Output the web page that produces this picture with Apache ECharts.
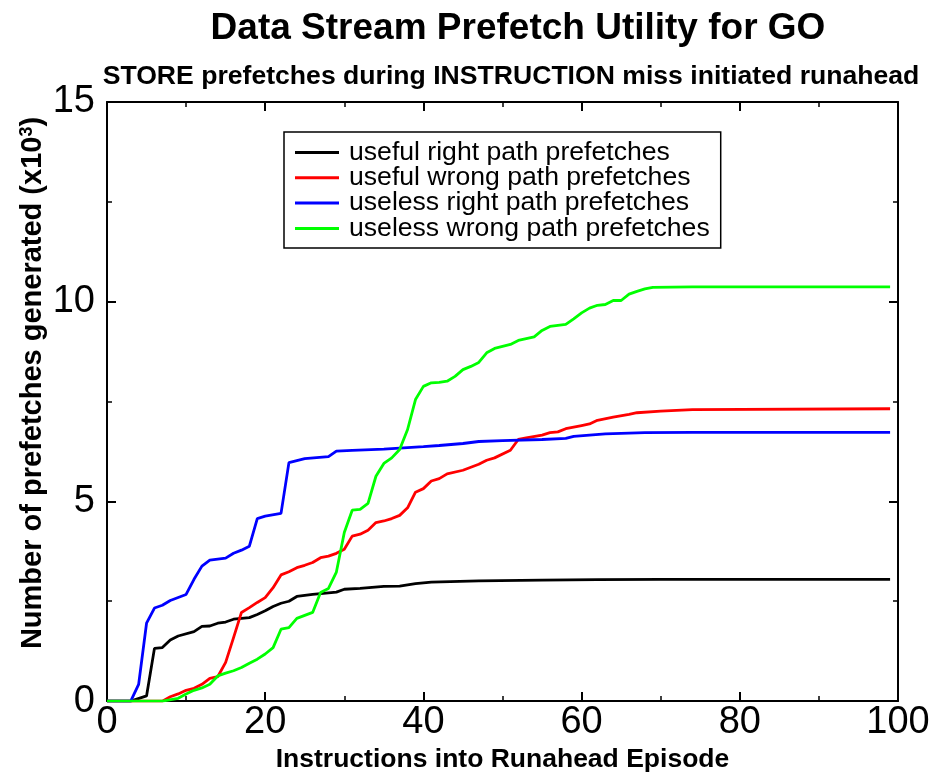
<!DOCTYPE html>
<html>
<head>
<meta charset="utf-8">
<script src="https://cdn.jsdelivr.net/npm/echarts@6/dist/echarts.min.js"></script>
<style>html,body{margin:0;padding:0;background:#fff}#c{width:945px;height:778px}</style>
</head>
<body>
<div id="c"></div>
<script>
const titleText = 'Data Stream Prefetch Utility for GO';
const subtitleText = 'STORE prefetches during INSTRUCTION miss initiated runahead';
const xAxisName = 'Instructions into Runahead Episode';
const seriesNames = ['useful right path prefetches','useful wrong path prefetches','useless right path prefetches','useless wrong path prefetches'];
const seriesColors = ['#000000','#ff0000','#0000ff','#00ff00'];

const usefulRight = [[0,0],[3,0],[5,0.13],[6,1.32],[7,1.34],[8,1.53],[9,1.63],[11,1.74],[12,1.87],[13,1.88],[14,1.95],[15,1.98],[16,2.05],[18,2.09],[19,2.17],[20,2.26],[21,2.37],[22,2.45],[23,2.5],[24,2.62],[26,2.67],[29,2.73],[30,2.8],[32,2.82],[35,2.87],[37,2.88],[39,2.94],[41,2.98],[47,3.01],[55,3.03],[62,3.04],[70,3.05],[99,3.05]];
const usefulWrong = [[0,0],[7,0],[8,0.11],[9,0.18],[10,0.27],[11,0.32],[12,0.42],[13,0.57],[14,0.61],[15,0.97],[16,1.59],[17,2.22],[18,2.34],[19,2.47],[20,2.59],[21,2.84],[22,3.16],[23,3.24],[24,3.34],[25,3.4],[26,3.47],[27,3.59],[28,3.63],[29,3.7],[30,3.8],[31,4.13],[32,4.18],[33,4.28],[34,4.47],[35,4.51],[36,4.57],[37,4.65],[38,4.84],[39,5.23],[40,5.32],[41,5.51],[42,5.57],[43,5.69],[45,5.78],[47,5.93],[48,6.03],[49,6.09],[51,6.28],[52,6.55],[53,6.59],[55,6.66],[56,6.72],[57,6.74],[58,6.82],[60,6.9],[61,6.94],[62,7.03],[64,7.11],[66,7.18],[67,7.22],[70,7.26],[74,7.3],[99,7.32]];
const uselessRight = [[0,0],[3,0],[4,0.42],[5,1.95],[6,2.33],[7,2.4],[8,2.52],[10,2.67],[11,3.05],[12,3.38],[13,3.53],[15,3.58],[16,3.7],[17,3.78],[18,3.88],[19,4.57],[20,4.63],[22,4.7],[23,5.97],[25,6.07],[28,6.12],[29,6.26],[31,6.28],[35,6.31],[40,6.37],[42,6.4],[45,6.45],[47,6.5],[50,6.52],[55,6.55],[58,6.58],[59,6.63],[63,6.69],[68,6.72],[74,6.73],[99,6.73]];
const uselessWrong = [[0,0],[7,0],[9,0.07],[10,0.18],[11,0.27],[12,0.33],[13,0.42],[14,0.63],[15,0.7],[16,0.76],[17,0.84],[18,0.95],[19,1.05],[20,1.18],[21,1.34],[22,1.8],[23,1.84],[24,2.07],[26,2.22],[27,2.72],[28,2.82],[29,3.23],[30,4.22],[31,4.78],[32,4.8],[33,4.95],[34,5.63],[35,5.95],[36,6.09],[37,6.3],[38,6.8],[39,7.55],[40,7.88],[41,7.97],[42,7.98],[43,8.01],[44,8.13],[45,8.3],[46,8.38],[47,8.48],[48,8.72],[49,8.83],[51,8.93],[52,9.03],[54,9.12],[55,9.28],[56,9.38],[58,9.43],[59,9.57],[60,9.72],[61,9.84],[62,9.91],[63,9.93],[64,10.03],[65,10.03],[66,10.19],[67,10.26],[68,10.32],[69,10.36],[74,10.37],[99,10.37]];
const seriesData = [usefulRight, usefulWrong, uselessRight, uselessWrong];

const xMin = 0, xMax = 100, xInterval = 20;
const yMin = 0, yMax = 15, yInterval = 5;

const FONT = 'Liberation Sans, Arial, Helvetica, sans-serif';
const chart = echarts.init(document.getElementById('c'), null, {renderer: 'canvas'});

function mkX(pos, showLabel) {
  return {
    type: 'value', position: pos, min: xMin, max: xMax, interval: xInterval,
    gridIndex: 0,
    name: showLabel ? xAxisName : '',
    nameLocation: 'middle', nameGap: 43,
    nameTextStyle: {fontFamily: FONT, fontWeight: 'bold', fontSize: 26.5, color: '#000'},
    axisLine: {show: true, onZero: false, lineStyle: {color: '#000', width: 2}},
    axisTick: {show: true, inside: true, length: 9, lineStyle: {color: '#000', width: 2}},
    minorTick: {show: true, splitNumber: 2, length: 5, lineStyle: {color: '#000', width: 1.5}},
    axisLabel: {show: showLabel, fontFamily: FONT, fontSize: 38, color: '#000', margin: 2},
    splitLine: {show: false}
  };
}
function mkY(pos, showLabel) {
  return {
    type: 'value', position: pos, min: yMin, max: yMax, interval: yInterval,
    gridIndex: 0,
    axisLine: {show: true, onZero: false, lineStyle: {color: '#000', width: 2}},
    axisTick: {show: true, inside: true, length: 9, lineStyle: {color: '#000', width: 2}},
    minorTick: {show: true, splitNumber: 2, length: 5, lineStyle: {color: '#000', width: 1.5}},
    axisLabel: {show: showLabel, fontFamily: FONT, fontSize: 38, color: '#000', margin: 12},
    splitLine: {show: false}
  };
}

const option = {
  backgroundColor: '#fff',
  animation: false,
  title: [
    {text: titleText, left: 513, top: 5, textAlign: 'center',
     textStyle: {fontFamily: FONT, fontWeight: 'bold', fontSize: 37, color: '#000'}},
    {text: subtitleText, left: 506, top: 58, textAlign: 'center',
     textStyle: {fontFamily: FONT, fontWeight: 'bold', fontSize: 26.6, color: '#000'}}
  ],
  grid: {left: 107, right: 47, top: 102, bottom: 76, containLabel: false},
  legend: {
    orient: 'vertical', left: 284, top: 132,
    padding: [7, 11, 6, 11],
    borderColor: '#000', borderWidth: 1.5,
    itemWidth: 44, itemHeight: 3, itemGap: -1.7,
    icon: 'rect',
    textStyle: {fontFamily: FONT, fontSize: 26.6, color: '#000', lineHeight: 25, padding: [0,0,0,5]},
    data: seriesNames
  },
  xAxis: [mkX('bottom', true), mkX('top', false)],
  yAxis: [mkY('left', true), mkY('right', false)],
  graphic: [{
    type: 'text', x: 33, y: 383, rotation: Math.PI / 2,
    style: {
      text: '{a|Number of prefetches generated (x10}{s|3}{a|)}',
      align: 'center', verticalAlign: 'middle',
      rich: {
        a: {fontFamily: FONT, fontWeight: 'bold', fontSize: 29, fill: '#000'},
        s: {fontFamily: FONT, fontWeight: 'bold', fontSize: 18, fill: '#000', verticalAlign: 'top', padding: [0,0,12,0]}
      }
    }
  }],
  series: seriesNames.map((n, i) => ({
    name: n, type: 'line', data: seriesData[i],
    xAxisIndex: 0, yAxisIndex: 0,
    showSymbol: false, symbol: 'none',
    lineStyle: {color: seriesColors[i], width: 2.8},
    itemStyle: {color: seriesColors[i]}
  }))
};
chart.setOption(option);
</script>
</body>
</html>
